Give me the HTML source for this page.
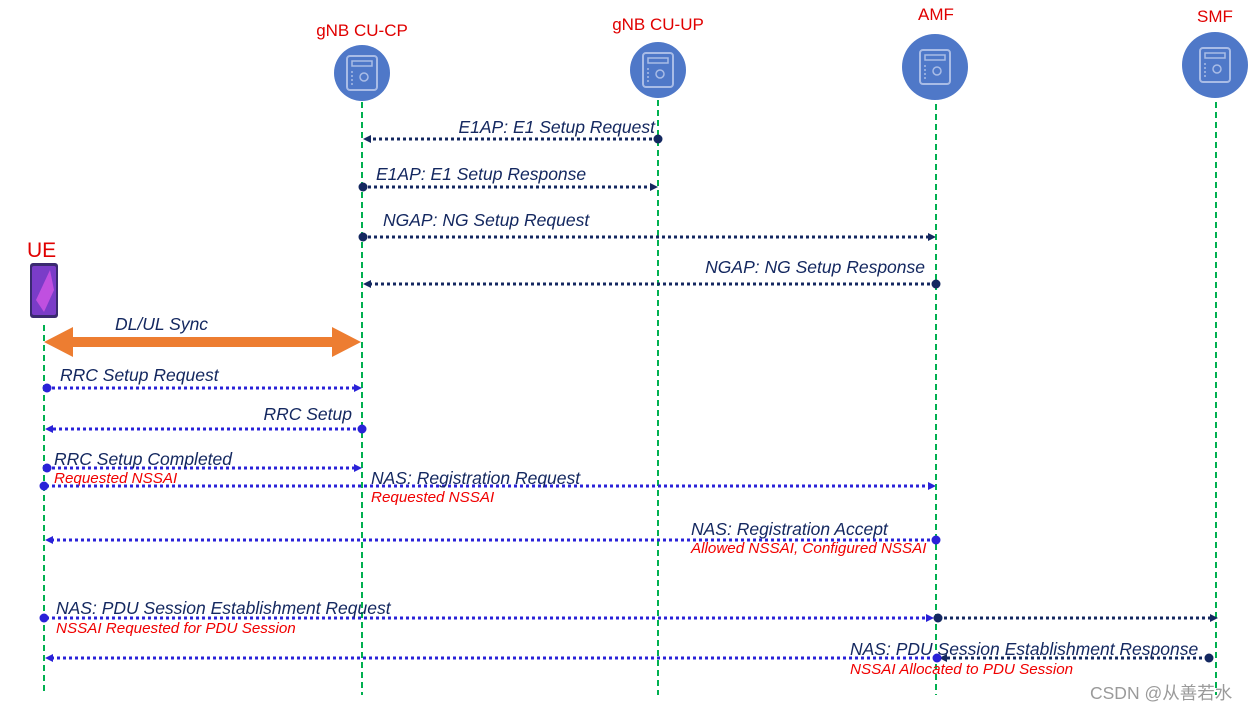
<!DOCTYPE html>
<html><head><meta charset="utf-8"><style>
html,body{margin:0;padding:0;background:#fff;width:1256px;height:711px;overflow:hidden}
text{font-family:"Liberation Sans","Noto Sans CJK SC",sans-serif}
.m{font-size:17.5px;font-style:italic;fill:#142860}
.r{font-size:15.2px;font-style:italic;fill:#f00000}
.h{font-size:17px;fill:#e00000}
.ln{stroke:#00b050;stroke-width:2;stroke-dasharray:6,4}
.nv{stroke:#142860;stroke-width:3;stroke-dasharray:3,3;fill:none}
.bl{stroke:#2a22d8;stroke-width:3;stroke-dasharray:3,3;fill:none}
</style></head><body>
<svg width="1256" height="711" viewBox="0 0 1256 711" xmlns="http://www.w3.org/2000/svg">
<defs>
<g id="srv">
<rect x="-15" y="-17" width="30" height="34" rx="3" fill="none" stroke="#a9bce6" stroke-width="2"/>
<rect x="-10" y="-12" width="20" height="5" fill="none" stroke="#a9bce6" stroke-width="1.5"/>
<circle cx="2" cy="4" r="4" fill="none" stroke="#a9bce6" stroke-width="1.5"/>
<circle cx="-10" cy="-1" r="1" fill="#a9bce6"/><circle cx="-10" cy="3" r="1" fill="#a9bce6"/><circle cx="-10" cy="7" r="1" fill="#a9bce6"/><circle cx="-10" cy="11" r="1" fill="#a9bce6"/>
</g>
</defs>
<line class="ln" x1="44" y1="325" x2="44" y2="695"/>
<line class="ln" x1="362" y1="102" x2="362" y2="695"/>
<line class="ln" x1="658" y1="100" x2="658" y2="695"/>
<line class="ln" x1="936" y1="104" x2="936" y2="695"/>
<line class="ln" x1="1216" y1="102" x2="1216" y2="695"/>
<text class="h" x="362" y="36" text-anchor="middle">gNB CU-CP</text>
<text class="h" x="658" y="30" text-anchor="middle">gNB CU-UP</text>
<text class="h" x="936" y="20" text-anchor="middle">AMF</text>
<text class="h" x="1215" y="22" text-anchor="middle">SMF</text>
<circle cx="362" cy="73" r="28" fill="#4f78c8"/><use href="#srv" x="362" y="73"/>
<circle cx="658" cy="70" r="28" fill="#4f78c8"/><use href="#srv" x="658" y="70"/>
<circle cx="935" cy="67" r="33" fill="#4f78c8"/><use href="#srv" x="935" y="67"/>
<circle cx="1215" cy="65" r="33" fill="#4f78c8"/><use href="#srv" x="1215" y="65"/>
<text x="27" y="257" style="font-size:21px;fill:#e00000">UE</text>
<rect x="30" y="263" width="28" height="55" rx="3" fill="#3a2a70"/>
<rect x="32" y="266" width="24" height="49" rx="2" fill="#7a3cc8"/>
<path d="M36 300 L50 270 L54 290 L44 312 Z" fill="#c050e0"/>
<line class="nv" x1="658" y1="139" x2="368" y2="139"/><path d="M363 139 l8 -4 v8z" fill="#142860"/><circle cx="658" cy="139" r="4.5" fill="#142860"/>
<text class="m" x="655" y="133" text-anchor="end">E1AP: E1 Setup Request</text>
<line class="nv" x1="362" y1="187" x2="652" y2="187"/><path d="M658 187 l-8 -4 v8z" fill="#142860"/><circle cx="363" cy="187" r="4.5" fill="#142860"/>
<text class="m" x="376" y="180">E1AP: E1 Setup Response</text>
<line class="nv" x1="362" y1="237" x2="930" y2="237"/><path d="M936 237 l-8 -4 v8z" fill="#142860"/><circle cx="363" cy="237" r="4.5" fill="#142860"/>
<text class="m" x="383" y="226">NGAP: NG Setup Request</text>
<line class="nv" x1="936" y1="284" x2="368" y2="284"/><path d="M363 284 l8 -4 v8z" fill="#142860"/><circle cx="936" cy="284" r="4.5" fill="#142860"/>
<text class="m" x="925" y="273" text-anchor="end">NGAP: NG Setup Response</text>
<path d="M44 342 L73 327 L73 337 L332 337 L332 327 L361 342 L332 357 L332 347 L73 347 L73 357 Z" fill="#ed7d31"/>
<text class="m" x="115" y="330">DL/UL Sync</text>
<line class="bl" x1="46" y1="388" x2="356" y2="388"/><path d="M362 388 l-8 -4 v8z" fill="#2a22d8"/><circle cx="47" cy="388" r="4.5" fill="#2a22d8"/>
<text class="m" x="60" y="381">RRC Setup Request</text>
<line class="bl" x1="362" y1="429" x2="50" y2="429"/><path d="M45 429 l8 -4 v8z" fill="#2a22d8"/><circle cx="362" cy="429" r="4.5" fill="#2a22d8"/>
<text class="m" x="352" y="420" text-anchor="end">RRC Setup</text>
<line class="bl" x1="46" y1="468" x2="356" y2="468"/><path d="M362 468 l-8 -4 v8z" fill="#2a22d8"/><circle cx="47" cy="468" r="4.5" fill="#2a22d8"/>
<text class="m" x="54" y="465">RRC Setup Completed</text>
<text class="r" x="54" y="483">Requested NSSAI</text>
<line class="bl" x1="46" y1="486" x2="930" y2="486"/><path d="M936 486 l-8 -4 v8z" fill="#2a22d8"/><circle cx="44" cy="486" r="4.5" fill="#2a22d8"/>
<text class="m" x="371" y="484">NAS: Registration Request</text>
<text class="r" x="371" y="502">Requested NSSAI</text>
<line class="bl" x1="936" y1="540" x2="50" y2="540"/><path d="M45 540 l8 -4 v8z" fill="#2a22d8"/><circle cx="936" cy="540" r="4.5" fill="#2a22d8"/>
<text class="m" x="691" y="535">NAS: Registration Accept</text>
<text class="r" x="691" y="553">Allowed NSSAI, Configured NSSAI</text>
<line class="bl" x1="46" y1="618" x2="928" y2="618"/><path d="M934 618 l-8 -4 v8z" fill="#2a22d8"/><circle cx="44" cy="618" r="4.5" fill="#2a22d8"/>
<line class="nv" x1="938" y1="618" x2="1211" y2="618"/><path d="M1218 618 l-8 -4 v8z" fill="#142860"/><circle cx="938" cy="618" r="4.5" fill="#142860"/>
<text class="m" x="56" y="614">NAS: PDU Session Establishment Request</text>
<text class="r" x="56" y="633">NSSAI Requested for PDU Session</text>
<line class="nv" x1="1208" y1="658" x2="944" y2="658"/><path d="M939 658 l8 -4 v8z" fill="#142860"/><circle cx="1209" cy="658" r="4.5" fill="#142860"/>
<line class="bl" x1="936" y1="658" x2="50" y2="658"/><path d="M45 658 l8 -4 v8z" fill="#2a22d8"/><circle cx="937" cy="658" r="4.5" fill="#2a22d8"/>
<text class="m" x="850" y="655">NAS: PDU Session Establishment Response</text>
<text class="r" x="850" y="674">NSSAI Allocated to PDU Session</text>
<text x="1090" y="699" style="font-size:17.5px;fill:#9a9a9a">CSDN @从善若水</text>
</svg>
</body></html>
